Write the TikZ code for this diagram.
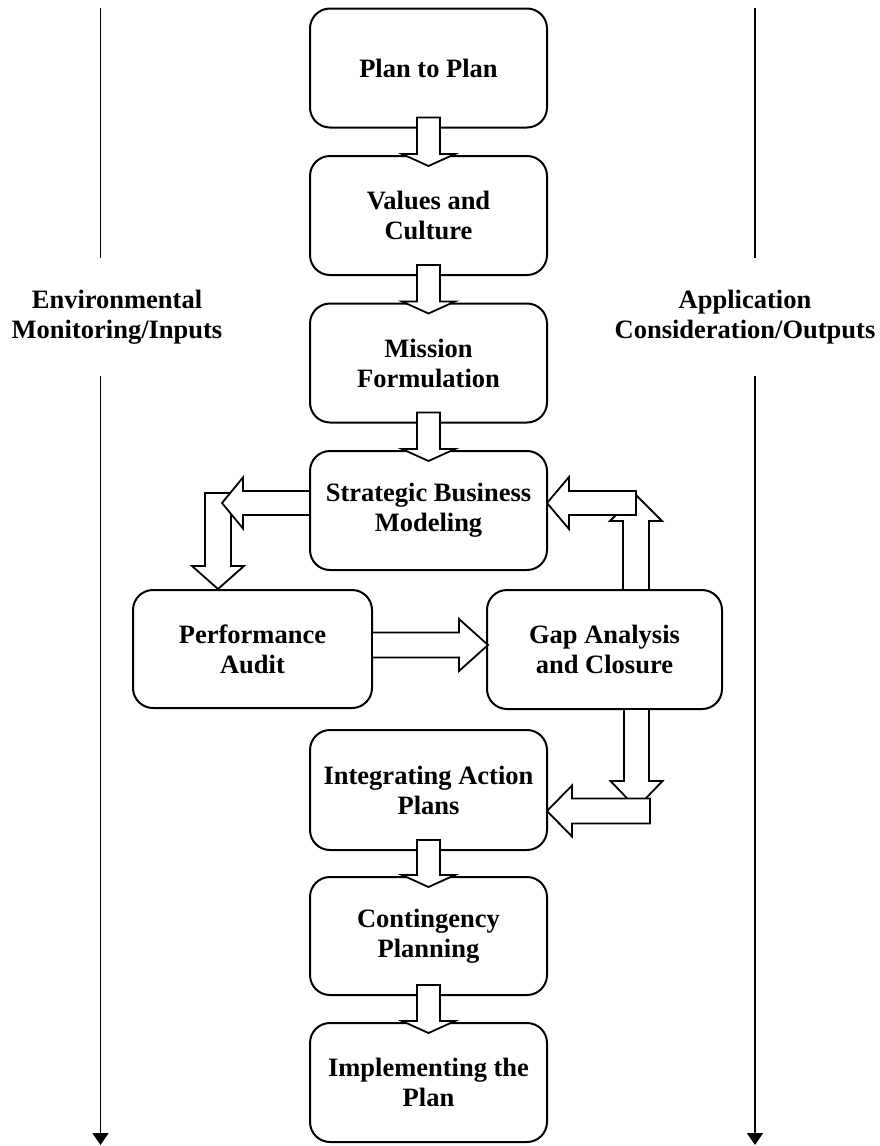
\documentclass[tikz,border=0pt]{standalone}
\usepackage{fontspec}
\setmainfont{Liberation Serif}
\usetikzlibrary{calc,arrows.meta}

% block arrow from #1 to #2: shaft half-width #3, head half-width #4, head length #5
\newcommand\blockarr[5]{%
  \coordinate (ba-h) at ($(#2)!#5!(#1)$);
  \draw[blockline]
    ($(#1)!#3!90:(#2)$) -- ($(ba-h)!#3!90:(#2)$) -- ($(ba-h)!#4!90:(#2)$) --
    (#2) --
    ($(ba-h)!#4!-90:(#2)$) -- ($(ba-h)!#3!-90:(#2)$) -- ($(#1)!#3!-90:(#2)$) -- cycle;}

\begin{document}
\begin{tikzpicture}[x=1pt,y=-1pt,
  stepbox/.style={draw,line width=2pt,rounded corners=20pt,fill=white,
    minimum width=237pt,minimum height=119pt,inner sep=0pt,outer sep=0pt,
    align=center,font=\fontsize{26.5}{30}\selectfont\bfseries},
  sidelbl/.style={align=center,inner sep=0pt,font=\fontsize{26.5}{30}\selectfont\bfseries},
  blockline/.style={draw,line width=1.8pt,fill=white,line join=miter},
  sideline/.style={line width=1.8pt},
  sidearrow/.style={line width=1.8pt,-{Triangle[length=12pt,width=16pt]}}]
\useasboundingbox (0,0) rectangle (880,1146);

% side labels and lines
\node[sidelbl] (env) at (117,317) {Environmental\\Monitoring/Inputs};
\node[sidelbl] (app) at (745,317) {Application\\Consideration/Outputs};
\coordinate (l1) at (100.5,8);   \coordinate (l2) at (100.5,258);
\coordinate (l3) at (100.5,376); \coordinate (l4) at (100.5,1145);
\coordinate (r1) at (755,8);     \coordinate (r2) at (755,258);
\coordinate (r3) at (755,376);   \coordinate (r4) at (755,1145);
\draw[sideline] (l1) -- (l2);
\draw[sidearrow] (l3) -- (l4);
\draw[sideline] (r1) -- (r2);
\draw[sidearrow] (r3) -- (r4);

% process boxes
\node[stepbox] (n1) at (428.5,68)   {Plan to Plan};
\node[stepbox] (n2) at (428.5,215.5) {Values and\\Culture};
\node[stepbox] (n3) at (428.5,363)  {Mission\\Formulation};
\node[stepbox] (n4) at (428.5,510.5) {Strategic Business\\Modeling};
\node[stepbox,minimum width=239pt,minimum height=118pt] (n5) at (252.5,649) {Performance\\Audit};
\node[stepbox,minimum width=235pt] (n6) at (604.5,649.5) {Gap Analysis\\and Closure};
\node[stepbox,minimum height=120pt] (n7) at (428.5,790) {Integrating Action\\Plans};
\node[stepbox,minimum height=118pt] (n8) at (428.5,936) {Contingency\\Planning};
\node[stepbox] (n9) at (428.5,1082.5) {Implementing the\\Plan};

% straight flow down the column
\foreach \a/\b in {n1/n2,n2/n3,n3/n4,n7/n8,n8/n9}{
  \coordinate (s-\a) at ($(\a.south)+(0,-10)$);
  \coordinate (t-\b) at ($(\b.north)+(0,10)$);
  \blockarr{s-\a}{t-\b}{11.5pt}{26.5pt}{12pt}
}

% strategic modeling to performance audit
\coordinate (pa1) at ($(n5.north)+(-34.5,-97)$);
\coordinate (pa2) at ($(n5.north)+(-34.5,-1)$);
\blockarr{pa1}{pa2}{13pt}{26pt}{23pt}
\coordinate (sl1) at ($(n4.west)+(0,-7.5)$);
\coordinate (sl2) at ($(n4.west)+(-88,-7.5)$);
\blockarr{sl1}{sl2}{12pt}{25.5pt}{21pt}

% performance audit to gap analysis
\coordinate (pg1) at ($(n5.east)+(0,-4)$);
\coordinate (pg2) at ($(n6.west)+(1,-4.5)$);
\blockarr{pg1}{pg2}{12.5pt}{26pt}{29pt}

% gap analysis back to strategic modeling
\coordinate (gu1) at ($(n6.north)+(31.5,0)$);
\coordinate (gu2) at ($(n6.north)+(31.5,-95)$);
\blockarr{gu1}{gu2}{13pt}{26pt}{26pt}
\coordinate (sr1) at ($(n4.east)+(89,-7.5)$);
\coordinate (sr2) at ($(n4.east)+(0,-7.5)$);
\blockarr{sr1}{sr2}{12pt}{26pt}{22pt}

% gap analysis to integrating action plans
\coordinate (gd1) at ($(n6.south)+(32,0)$);
\coordinate (gd2) at ($(n6.south)+(32,99)$);
\blockarr{gd1}{gd2}{12.5pt}{26pt}{27pt}
\coordinate (il1) at ($(n7.east)+(103,21)$);
\coordinate (il2) at ($(n7.east)+(0,21)$);
\blockarr{il1}{il2}{12.5pt}{25.5pt}{25pt}
\end{tikzpicture}
\end{document}
